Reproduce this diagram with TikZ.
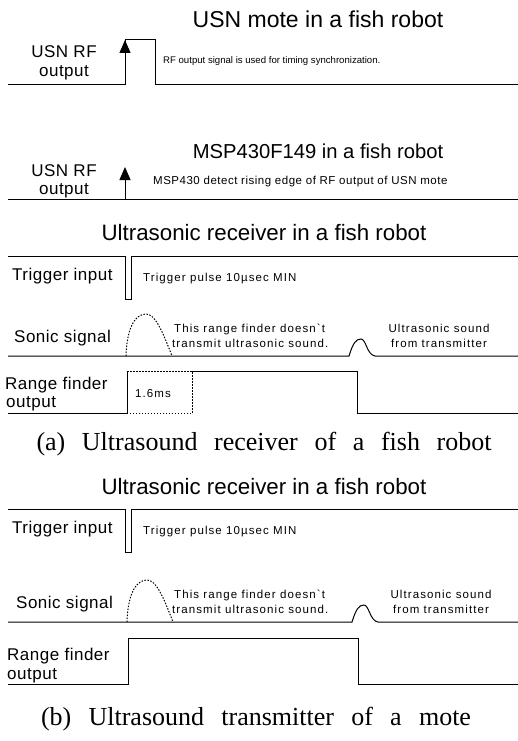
\documentclass[tikz,border=0pt]{standalone}
\usepackage{fontspec}
\setmainfont{Liberation Serif}
\newfontfamily\sansfam{Liberation Sans}
\usetikzlibrary{arrows.meta}

\tikzset{
  signal/.style={line width=1pt},
  pointille/.style={line width=1pt, dash pattern=on 1.5pt off 1.5pt},
  fleche/.style={-{Triangle[length=13pt,width=11pt]}},
  titre/.style={font={\sansfam\fontsize{22.3}{26}\selectfont}, anchor=base, inner sep=0pt},
  etiquette/.style={font={\sansfam\fontsize{17}{20}\selectfont\addfontfeature{LetterSpace=3}}, anchor=base west, inner sep=0pt},
  note/.style={font={\sansfam\fontsize{11.5}{14}\selectfont\addfontfeature{LetterSpace=9.5}}, anchor=base west, inner sep=0pt},
  legende/.style={font={\fontsize{26}{30}\selectfont}, anchor=base, inner sep=0pt},
}

\begin{document}
\begin{tikzpicture}[x=1pt,y=-1pt]
    \useasboundingbox (0,0) rectangle (518,741);

    % Panneau 1 : USN mote
    \node[titre, font={\sansfam\fontsize{23}{26}\selectfont}] (titre1) at (318,28) {USN mote in a fish robot};
    \node[etiquette, anchor=base] (rf1) at (64,58) {USN RF};
    \node[etiquette, anchor=base] (out1) at (64,77) {output};
    \draw[signal] (8,85) -- (125,85) -- (125,40) -- (155,40) -- (155,85) -- (518,85);
    \draw[signal, fleche] (125,85) -- (125,40);
    \node[note, font={\sansfam\fontsize{9.6}{12}\selectfont}] (sync) at (163,64) {RF output signal is used for timing synchronization.};

    % Panneau 2 : MSP430F149
    \node[titre, font={\sansfam\fontsize{20.2}{24}\selectfont}] (titre2) at (318,158) {MSP430F149 in a fish robot};
    \node[etiquette, anchor=base] (rf2) at (64,176) {USN RF};
    \node[etiquette, anchor=base] (out2) at (64,194) {output};
    \draw[signal] (8,199) -- (518,199);
    \draw[signal, fleche] (125,199) -- (125,167);
    \node[note, font={\sansfam\fontsize{11.5}{14}\selectfont\addfontfeature{LetterSpace=4.5}}] (detect) at (153,184) {MSP430 detect rising edge of RF output of USN mote};

    % Panneau (a) : recepteur
    \node[titre] (titre3) at (264,240) {Ultrasonic receiver in a fish robot};
    \node[etiquette] (trig3) at (12,280) {Trigger input};
    \draw[signal] (8,256) -- (125,256) -- (125,299) -- (131,299) -- (131,256) -- (518,256);
    \node[note] (pulse3) at (143,281) {Trigger pulse 10µsec MIN};

    \node[etiquette] (sonic3) at (14,342) {Sonic signal};
    \draw[signal] (8,356) -- (349,356) .. controls (353,343) and (356,339) .. (361,339) .. controls (366,339) and (367,355) .. (375,356) -- (518,356);
    \draw[pointille] (126,356) .. controls (127,324) and (137,314) .. (146,314) .. controls (155,314) and (162,330) .. (172,356);
    \node[note] (doesnt3) at (174,332) {This range finder doesn`t};
    \node[note] (transmit3) at (172,347) {transmit ultrasonic sound.};
    \node[note, anchor=base] (usound3) at (439,332) {Ultrasonic sound};
    \node[note, anchor=base] (from3) at (439,347) {from transmitter};

    \node[etiquette] (range3) at (5,389) {Range finder};
    \node[etiquette] (out3) at (6,407) {output};
    \draw[signal] (8,413) -- (127,413) -- (127,371);
    \draw[pointille] (127,371) -- (192,371) -- (192,413) -- (127,413);
    \draw[signal] (192,371) -- (357,371) -- (357,413) -- (518,413);
    \node[note] (duree) at (135,397) {1.6ms};

    \node[legende] (legA) at (264,450) {\makebox[455pt][s]{(a) Ultrasound receiver of a fish robot}};

    % Panneau (b) : emetteur
    \node[titre] (titre4) at (264,494) {Ultrasonic receiver in a fish robot};
    \node[etiquette] (trig4) at (12,533) {Trigger input};
    \draw[signal] (8,509) -- (125,509) -- (125,552) -- (131,552) -- (131,509) -- (518,509);
    \node[note] (pulse4) at (143,534) {Trigger pulse 10µsec MIN};

    \node[etiquette] (sonic4) at (16,608) {Sonic signal};
    \draw[signal] (8,622) -- (352,622) .. controls (356,609) and (359,605) .. (364,605) .. controls (369,605) and (370,621) .. (378,622) -- (518,622);
    \draw[pointille] (127,622) .. controls (128,590) and (138,580) .. (147,580) .. controls (156,580) and (163,596) .. (173,622);
    \node[note] (doesnt4) at (174,598) {This range finder doesn`t};
    \node[note] (transmit4) at (172,613) {transmit ultrasonic sound.};
    \node[note, anchor=base] (usound4) at (441,598) {Ultrasonic sound};
    \node[note, anchor=base] (from4) at (441,613) {from transmitter};

    \node[etiquette] (range4) at (7,660) {Range finder};
    \node[etiquette] (out4) at (7,679) {output};
    \draw[signal] (8,684) -- (128,684) -- (128,638) -- (358,638) -- (358,684) -- (518,684);

    \node[legende] (legB) at (256,725) {\makebox[430pt][s]{(b) Ultrasound transmitter of a mote}};
\end{tikzpicture}
\end{document}
